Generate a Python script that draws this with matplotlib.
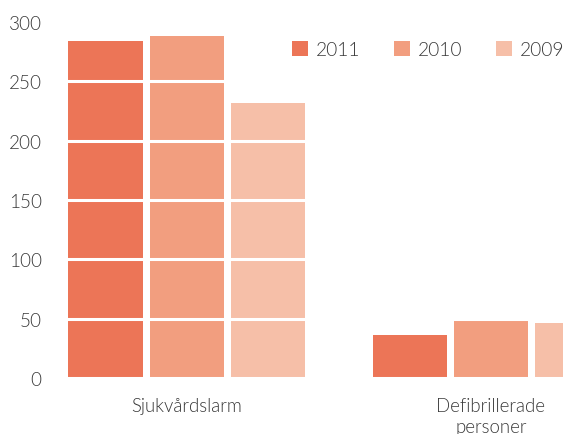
import matplotlib
matplotlib.use("Agg")
import matplotlib.pyplot as plt
import numpy as np
from matplotlib.patches import Patch

categories = ["Sjukvårdslarm", "Defibrillerade\npersoner"]
years = ["2011", "2010", "2009"]
values = {
    "2011": [284, 36],
    "2010": [288, 49],
    "2009": [232, 46],
}
colors = {"2011": "#EC7557", "2010": "#F29E7F", "2009": "#F6BFA8"}
yticks = [0, 50, 100, 150, 200, 250, 300]

plt.rcParams['font.family'] = ['Lato', 'DejaVu Sans']
W, H = 563, 435
fig = plt.figure(figsize=(W / 100, H / 100), dpi=100)
left_px, right_px = 50, 563
bot_px, top_px = 435 - 379, 435 - 23
ax = fig.add_axes([left_px / W, bot_px / H, (right_px - left_px) / W, (top_px - bot_px) / H])

group_px = 304.5
slot = 81 / group_px
bw = 74 / group_px
x = np.arange(len(categories))
for i, y in enumerate(years):
    ax.bar(x + (i - 1) * slot, values[y], width=bw, color=colors[y], zorder=1, label=y)

txt = "#383838"
fw = 300
c0 = 186.5
ax.set_xlim((left_px - c0) / group_px, (right_px - c0) / group_px)
ax.set_ylim(0, 300)
ax.set_yticks(yticks)
ax.set_xticks(x)
ax.set_xticklabels(categories, fontsize=13.4, color=txt, fontweight=fw, linespacing=1.3)
ax.set_yticklabels([str(v) for v in yticks], fontsize=13.6, color=txt, fontweight=fw)
ax.tick_params(axis="both", length=0)
ax.tick_params(axis="y", pad=6)
ax.tick_params(axis="x", pad=13.5)
for s in ax.spines.values():
    s.set_visible(False)
ax.set_axisbelow(False)
ax.yaxis.grid(True, color="white", linewidth=2.2, zorder=3)
ax.xaxis.grid(False)

handles = [Patch(facecolor=colors[y], edgecolor="none") for y in years]
leg = fig.legend(handles, years, loc="upper left", bbox_to_anchor=(292 / W, 1 - 42 / H),
                 ncol=3, frameon=False, borderpad=0, borderaxespad=0,
                 handlelength=0.85, handleheight=0.85, handletextpad=0.4,
                 columnspacing=1.75, prop={"size": 13.8, "weight": fw})
for t in leg.get_texts():
    t.set_color(txt)

fig.savefig("out.png", dpi=100)
